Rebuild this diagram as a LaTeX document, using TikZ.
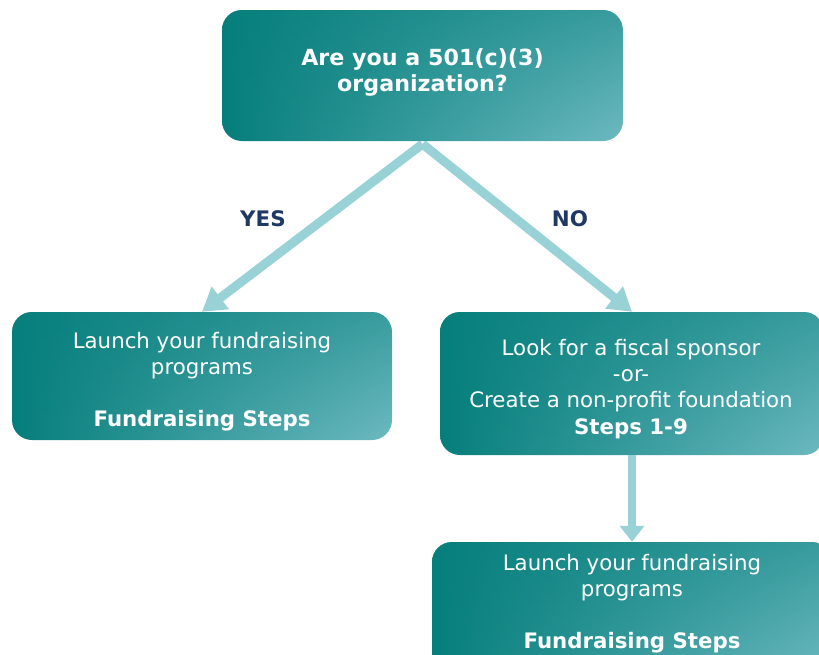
\documentclass[tikz,border=0pt]{standalone}
\usepackage{fontspec}
\setmainfont{DejaVu Sans}
\usetikzlibrary{arrows.meta,fadings}
\definecolor{tealdark}{HTML}{067F7C}
\definecolor{teallight}{HTML}{6DBAC1}
\definecolor{arrowc}{HTML}{98D2D6}
\definecolor{navy}{HTML}{1F3864}
\tikzset{
  box/.style={rounded corners=20pt, inner sep=0pt, left color=tealdark, right color=teallight,
    path picture={\fill[tealdark, path fading=south, fill opacity=0.5]
      (path picture bounding box.south west) rectangle (path picture bounding box.north east);}},
  txt/.style={text=white, align=center, font=\fontsize{21.3}{26.1}\selectfont, inner sep=0pt},
  txtb/.style={txt, font=\bfseries\fontsize{22.2}{26.1}\selectfont},
  conn/.style={arrowc, line width=9pt, -{Triangle[width=27pt,length=23pt]}},
  connv/.style={arrowc, line width=8.5pt, -{Triangle[width=24pt,length=16pt]}},
  lbl/.style={text=navy, font=\bfseries\fontsize{21.4}{24}\selectfont, inner sep=0pt}
}
\begin{document}
\begin{tikzpicture}[x=1pt,y=-1pt]
\useasboundingbox (0,0) rectangle (819,654);
\clip (0,0) rectangle (819,654);
\coordinate (apex) at (422.5,144);
\node[box, minimum width=380pt, minimum height=128pt] (left) at (202,376) {};
\node[box, minimum width=384pt, minimum height=143pt] (right) at (632,383.5) {};
\node[box, minimum width=400pt, minimum height=132pt] (bottom) at (632,608) {};
\draw[conn] (apex) -- (left.north);
\draw[conn] (apex) -- (right.north);
\draw[connv] (right.south) -- (bottom.north);
\node[box, minimum width=401pt, minimum height=131pt] (top) at (422.5,75.5) {};
% texts
\node[txtb] (ttop) at (422.5,72.5) {Are you a 501(c)(3)\\organization?};
\node[txt] (tleft) at (202,381.5) {Launch your fundraising\\programs\\[26.1pt]\textbf{Fundraising Steps}};
\node[txt] (tright) at (631,389) {Look for a fiscal sponsor\\-or-\\Create a non-profit foundation\\\textbf{Steps 1-9}};
\node[txt] (tbottom) at (632,603.5) {Launch your fundraising\\programs\\[26.1pt]\textbf{Fundraising Steps}};
\node[lbl] (yes) at (263,219) {YES};
\node[lbl] (no) at (570,219) {NO};
\end{tikzpicture}
\end{document}
